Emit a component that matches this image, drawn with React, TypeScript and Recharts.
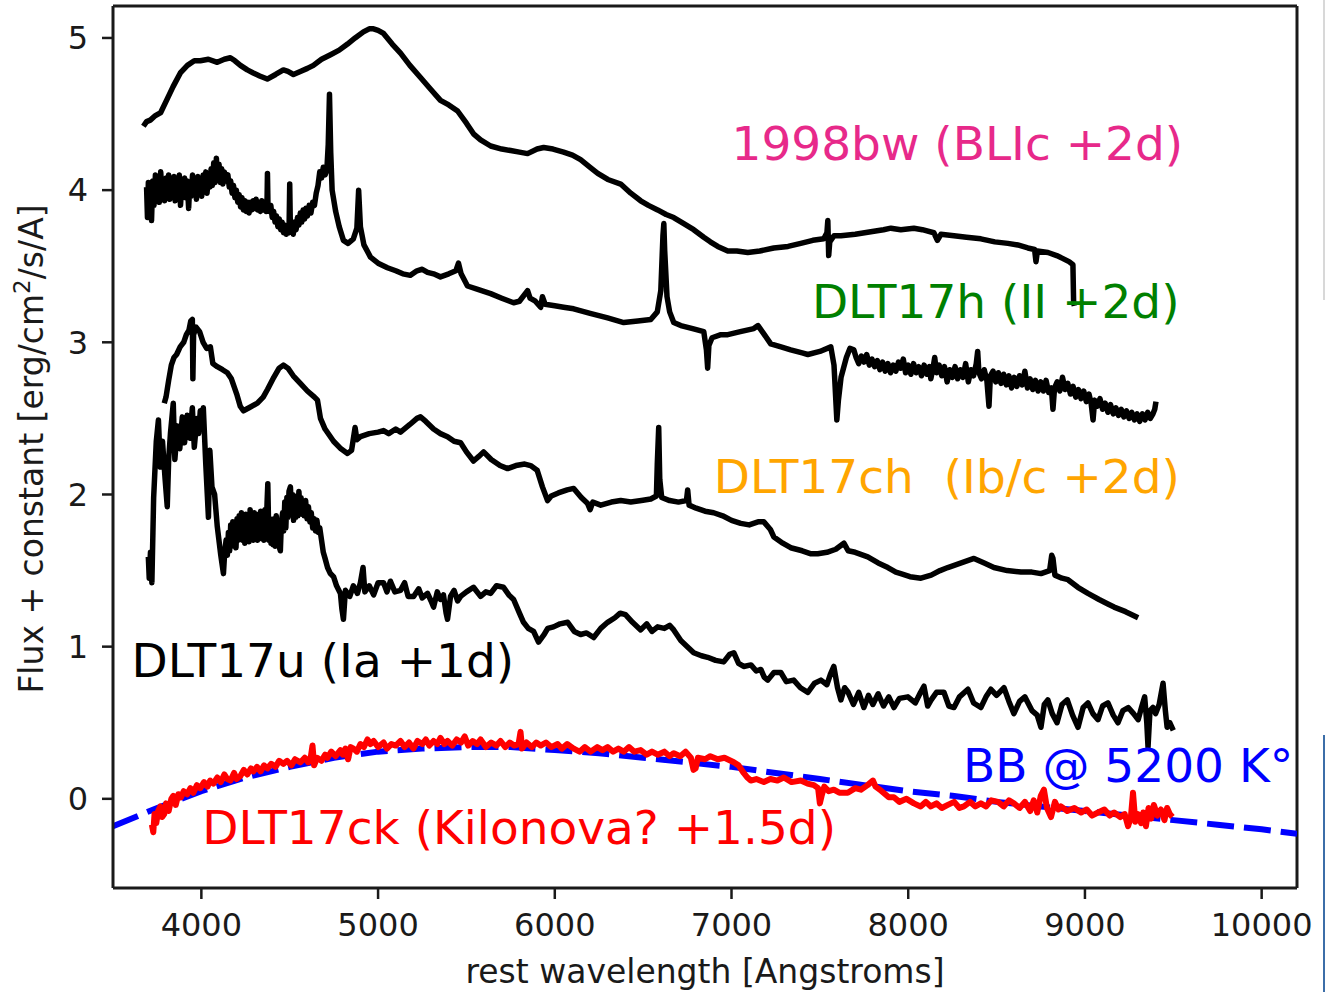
import { LineChart, Line, XAxis, YAxis, ReferenceDot, ReferenceLine } from 'recharts';

type Pt = [number, number];

// axis setup
const xTicks = [4000, 5000, 6000, 7000, 8000, 9000, 10000];
const yTicks = [0, 1, 2, 3, 4, 5];
const xMin = 3500;
const xMax = 10200;
const yMin = -0.586;
const yMax = 5.21;

// [rest wavelength (A), flux + constant]
const sn1998bw: Pt[] = [
  [3672, 4.42], [3690, 4.45], [3711, 4.46], [3740, 4.49], [3770, 4.51], [3807, 4.6], [3840, 4.68],
  [3881, 4.77], [3921, 4.82], [3960, 4.85], [3994, 4.85], [4040, 4.86], [4090, 4.84], [4130, 4.86],
  [4164, 4.87], [4190, 4.85], [4221, 4.82], [4260, 4.79], [4294, 4.77], [4330, 4.75], [4373, 4.73],
  [4420, 4.76], [4464, 4.79], [4490, 4.78], [4521, 4.76], [4560, 4.78], [4600, 4.8], [4634, 4.82],
  [4680, 4.86], [4731, 4.89], [4780, 4.92], [4827, 4.96], [4870, 5.0], [4917, 5.04], [4950, 5.06],
  [4974, 5.06], [5000, 5.05], [5031, 5.03], [5080, 4.96], [5127, 4.9], [5180, 4.82], [5240, 4.74],
  [5300, 4.66], [5353, 4.59], [5400, 4.56], [5450, 4.52], [5500, 4.44], [5540, 4.37], [5580, 4.33],
  [5637, 4.29], [5700, 4.27], [5750, 4.26], [5800, 4.25], [5846, 4.24], [5900, 4.27], [5937, 4.28],
  [5990, 4.27], [6050, 4.25], [6100, 4.23], [6146, 4.2], [6200, 4.15], [6243, 4.11], [6300, 4.07],
  [6373, 4.04], [6430, 3.98], [6486, 3.93], [6530, 3.9], [6582, 3.87], [6630, 3.84], [6673, 3.82],
  [6730, 3.78], [6786, 3.74], [6843, 3.69], [6880, 3.66], [6922, 3.63], [6979, 3.6], [7030, 3.6],
  [7092, 3.59], [7160, 3.6], [7239, 3.62], [7320, 3.63], [7392, 3.65], [7460, 3.67], [7522, 3.68],
  [7540, 3.72], [7545, 3.8], [7550, 3.57], [7556, 3.66], [7580, 3.7], [7619, 3.7], [7700, 3.71],
  [7806, 3.73], [7860, 3.74], [7902, 3.75], [7958, 3.74], [8032, 3.75], [8080, 3.74], [8145, 3.72],
  [8165, 3.67], [8185, 3.71], [8259, 3.7], [8330, 3.69], [8411, 3.68], [8490, 3.66], [8564, 3.65],
  [8620, 3.64], [8677, 3.62], [8715, 3.61], [8723, 3.53], [8731, 3.6], [8791, 3.59], [8840, 3.57],
  [8876, 3.55], [8910, 3.53], [8932, 3.51], [8936, 3.26], [8940, 3.24],
];

const dlt17h: Pt[] = [
  [3690, 4.02], [3695, 3.82], [3700, 4.05], [3705, 3.85], [3710, 3.95], [3718, 3.8], [3725, 4.06],
  [3732, 3.9], [3740, 4.1], [3748, 3.95], [3755, 4.08], [3762, 3.92], [3770, 4.12], [3778, 3.97],
  [3785, 4.06], [3792, 3.93], [3800, 4.08], [3808, 3.96], [3815, 4.1], [3822, 3.94], [3830, 4.05],
  [3838, 3.98], [3845, 4.09], [3852, 3.93], [3860, 4.06], [3868, 3.99], [3875, 4.1], [3882, 3.9],
  [3890, 4.04], [3898, 3.97], [3905, 4.08], [3912, 3.95], [3920, 4.06], [3928, 3.88], [3935, 4.05],
  [3942, 3.96], [3950, 4.1], [3958, 3.98], [3965, 4.06], [3972, 3.94], [3980, 4.09], [3988, 3.99],
  [3995, 4.07], [4002, 3.96], [4010, 4.1], [4018, 4.0], [4025, 4.12], [4032, 3.98], [4040, 4.1],
  [4048, 4.02], [4055, 4.14], [4062, 4.03], [4070, 4.18], [4078, 4.05], [4085, 4.21], [4092, 4.08],
  [4100, 4.17], [4108, 4.05], [4115, 4.14], [4122, 4.04], [4130, 4.12], [4140, 4.06], [4150, 4.1],
  [4158, 4.02], [4166, 4.06], [4174, 3.98], [4182, 4.03], [4190, 3.95], [4198, 4.0], [4206, 3.92],
  [4214, 3.97], [4222, 3.89], [4230, 3.95], [4238, 3.87], [4246, 3.93], [4254, 3.86], [4262, 3.92],
  [4270, 3.85], [4278, 3.92], [4286, 3.87], [4294, 3.93], [4302, 3.88], [4310, 3.94], [4318, 3.87],
  [4326, 3.92], [4334, 3.86], [4342, 3.93], [4350, 3.87], [4358, 3.92], [4366, 3.86], [4372, 3.95],
  [4374, 4.11], [4377, 3.9], [4385, 3.86], [4393, 3.9], [4401, 3.82], [4409, 3.86], [4417, 3.79],
  [4425, 3.83], [4433, 3.76], [4441, 3.81], [4449, 3.74], [4457, 3.79], [4465, 3.72], [4473, 3.77],
  [4481, 3.71], [4489, 3.76], [4496, 3.72], [4500, 4.04], [4504, 3.73], [4512, 3.78], [4520, 3.71],
  [4528, 3.79], [4536, 3.74], [4544, 3.82], [4552, 3.77], [4560, 3.85], [4568, 3.79], [4576, 3.87],
  [4584, 3.81], [4592, 3.88], [4600, 3.83], [4610, 3.9], [4620, 3.85], [4630, 3.92], [4640, 3.9],
  [4650, 3.98], [4660, 4.03], [4670, 4.12], [4680, 4.08], [4690, 4.15], [4700, 4.1], [4710, 4.13],
  [4718, 4.3], [4725, 4.63], [4732, 4.25], [4740, 4.0], [4760, 3.86], [4780, 3.76], [4804, 3.67],
  [4830, 3.65], [4860, 3.68], [4880, 3.75], [4890, 4.0], [4900, 3.76], [4920, 3.64], [4957, 3.56],
  [5000, 3.52], [5053, 3.49], [5100, 3.47], [5140, 3.45], [5183, 3.44], [5220, 3.47], [5250, 3.48],
  [5280, 3.46], [5314, 3.45], [5353, 3.43], [5400, 3.45], [5440, 3.47], [5455, 3.52], [5470, 3.45],
  [5506, 3.37], [5560, 3.35], [5637, 3.32], [5700, 3.29], [5767, 3.26], [5800, 3.27], [5846, 3.34],
  [5860, 3.29], [5890, 3.27], [5920, 3.23], [5930, 3.3], [5945, 3.25], [6000, 3.24], [6050, 3.23],
  [6107, 3.22], [6200, 3.19], [6299, 3.16], [6390, 3.13], [6470, 3.14], [6543, 3.15], [6580, 3.2],
  [6600, 3.34], [6612, 3.7], [6617, 3.78], [6622, 3.6], [6635, 3.3], [6650, 3.2], [6673, 3.13],
  [6713, 3.11], [6780, 3.09], [6843, 3.07], [6858, 2.95], [6865, 2.83], [6872, 2.98], [6890, 3.03],
  [6940, 3.05], [6979, 3.05], [7050, 3.07], [7126, 3.09], [7150, 3.11], [7180, 3.06], [7222, 2.99],
  [7280, 2.97], [7335, 2.95], [7400, 2.93], [7432, 2.92], [7500, 2.94], [7562, 2.97], [7580, 2.85],
  [7596, 2.49], [7605, 2.62], [7620, 2.77], [7650, 2.9], [7670, 2.96], [7692, 2.95], [7705, 2.9],
  [7720, 2.86], [7735, 2.91], [7750, 2.87], [7765, 2.92], [7780, 2.85], [7795, 2.89], [7810, 2.84],
  [7825, 2.88], [7840, 2.82], [7855, 2.87], [7870, 2.81], [7885, 2.86], [7900, 2.8], [7915, 2.85],
  [7930, 2.81], [7945, 2.87], [7958, 2.83], [7972, 2.89], [7985, 2.8], [8000, 2.85], [8015, 2.79],
  [8030, 2.86], [8045, 2.8], [8060, 2.84], [8075, 2.78], [8090, 2.85], [8105, 2.79], [8120, 2.84],
  [8128, 2.76], [8140, 2.83], [8150, 2.9], [8160, 2.8], [8175, 2.85], [8190, 2.78], [8205, 2.84],
  [8220, 2.74], [8235, 2.82], [8250, 2.77], [8265, 2.84], [8280, 2.76], [8295, 2.82], [8310, 2.77],
  [8325, 2.86], [8340, 2.74], [8355, 2.82], [8370, 2.78], [8385, 2.86], [8393, 2.94], [8400, 2.8],
  [8415, 2.76], [8430, 2.82], [8445, 2.75], [8457, 2.58], [8465, 2.78], [8480, 2.81], [8495, 2.74],
  [8510, 2.8], [8525, 2.73], [8540, 2.79], [8555, 2.72], [8570, 2.78], [8585, 2.7], [8600, 2.77],
  [8615, 2.71], [8630, 2.78], [8645, 2.72], [8660, 2.81], [8675, 2.7], [8690, 2.76], [8705, 2.69],
  [8720, 2.75], [8735, 2.68], [8750, 2.74], [8765, 2.68], [8780, 2.75], [8795, 2.67], [8810, 2.7],
  [8819, 2.56], [8828, 2.7], [8843, 2.74], [8858, 2.68], [8873, 2.77], [8888, 2.69], [8903, 2.73],
  [8918, 2.66], [8933, 2.71], [8948, 2.64], [8963, 2.69], [8978, 2.63], [8993, 2.68], [9008, 2.61],
  [9023, 2.66], [9035, 2.6], [9046, 2.49], [9055, 2.62], [9070, 2.58], [9085, 2.63], [9100, 2.56],
  [9115, 2.6], [9130, 2.54], [9145, 2.59], [9160, 2.53], [9175, 2.57], [9190, 2.52], [9205, 2.56],
  [9220, 2.51], [9235, 2.55], [9250, 2.5], [9265, 2.54], [9280, 2.49], [9295, 2.53], [9310, 2.48],
  [9325, 2.53], [9340, 2.49], [9355, 2.54], [9370, 2.5], [9385, 2.53], [9395, 2.56], [9402, 2.61],
];

const dlt17ch: Pt[] = [
  [3790, 2.6], [3800, 2.64], [3815, 2.75], [3830, 2.85], [3845, 2.9], [3860, 2.92], [3880, 2.97],
  [3900, 3.0], [3915, 3.05], [3930, 3.08], [3940, 3.14], [3949, 3.15], [3952, 2.76], [3956, 3.05],
  [3970, 3.1], [3990, 3.07], [4010, 3.0], [4030, 2.96], [4051, 2.97], [4065, 2.86], [4090, 2.84],
  [4120, 2.82], [4147, 2.8], [4170, 2.76], [4200, 2.66], [4220, 2.58], [4238, 2.55], [4270, 2.57],
  [4317, 2.6], [4350, 2.64], [4374, 2.69], [4410, 2.77], [4440, 2.83], [4464, 2.85], [4490, 2.83],
  [4520, 2.78], [4560, 2.73], [4600, 2.68], [4640, 2.64], [4657, 2.62], [4674, 2.5], [4700, 2.43],
  [4748, 2.35], [4790, 2.3], [4827, 2.27], [4850, 2.29], [4870, 2.44], [4880, 2.36], [4900, 2.38],
  [4950, 2.4], [5000, 2.41], [5031, 2.42], [5060, 2.4], [5100, 2.43], [5127, 2.41], [5180, 2.46],
  [5220, 2.5], [5240, 2.51], [5270, 2.48], [5314, 2.43], [5353, 2.4], [5393, 2.38], [5430, 2.35],
  [5467, 2.34], [5500, 2.28], [5540, 2.22], [5570, 2.25], [5597, 2.28], [5640, 2.23], [5690, 2.19],
  [5733, 2.17], [5780, 2.19], [5830, 2.2], [5863, 2.19], [5900, 2.16], [5930, 2.05], [5959, 1.96],
  [5980, 1.99], [6020, 2.01], [6070, 2.03], [6107, 2.04], [6150, 1.98], [6186, 1.94], [6200, 1.9],
  [6215, 1.95], [6260, 1.93], [6320, 1.95], [6373, 1.96], [6430, 1.95], [6490, 1.96], [6543, 1.97],
  [6575, 1.99], [6580, 2.2], [6588, 2.44], [6594, 2.1], [6605, 1.98], [6650, 1.96], [6700, 1.95],
  [6745, 1.96], [6752, 2.03], [6760, 1.93], [6800, 1.91], [6850, 1.89], [6899, 1.88], [6950, 1.86],
  [7000, 1.83], [7052, 1.81], [7100, 1.8], [7150, 1.82], [7183, 1.82], [7220, 1.77], [7240, 1.72],
  [7290, 1.68], [7335, 1.65], [7400, 1.63], [7450, 1.61], [7488, 1.61], [7540, 1.62], [7590, 1.64],
  [7636, 1.68], [7660, 1.63], [7700, 1.62], [7771, 1.59], [7830, 1.55], [7885, 1.52], [7930, 1.49],
  [7958, 1.48], [8010, 1.46], [8072, 1.45], [8130, 1.47], [8180, 1.5], [8224, 1.52], [8300, 1.55],
  [8372, 1.58], [8430, 1.55], [8485, 1.52], [8560, 1.5], [8638, 1.49], [8700, 1.49], [8751, 1.48],
  [8800, 1.5], [8812, 1.6], [8819, 1.58], [8830, 1.47], [8870, 1.45], [8904, 1.44], [8960, 1.39],
  [9017, 1.35], [9080, 1.31], [9130, 1.28], [9165, 1.26], [9230, 1.23], [9301, 1.19],
];

const dlt17u: Pt[] = [
  [3700, 1.59], [3705, 1.45], [3712, 1.62], [3720, 1.42], [3730, 1.98], [3745, 2.35], [3757, 2.49],
  [3768, 2.18], [3780, 2.35], [3795, 2.1], [3807, 1.92], [3815, 2.23], [3825, 2.4], [3841, 2.6],
  [3850, 2.23], [3865, 2.45], [3878, 2.3], [3892, 2.51], [3905, 2.34], [3920, 2.52], [3935, 2.37],
  [3949, 2.57], [3960, 2.31], [3975, 2.5], [3985, 2.4], [3994, 2.55], [4002, 2.45], [4011, 2.57],
  [4025, 2.2], [4040, 1.85], [4048, 2.29], [4060, 2.05], [4075, 2.0], [4090, 1.79], [4110, 1.6],
  [4125, 1.48], [4132, 1.62], [4140, 1.7], [4147, 1.6], [4153, 1.75], [4160, 1.63], [4166, 1.8],
  [4172, 1.66], [4178, 1.82], [4184, 1.68], [4190, 1.78], [4196, 1.65], [4202, 1.84], [4208, 1.7],
  [4214, 1.86], [4221, 1.72], [4227, 1.88], [4233, 1.7], [4240, 1.83], [4246, 1.68], [4252, 1.87],
  [4258, 1.72], [4264, 1.84], [4270, 1.69], [4276, 1.9], [4282, 1.73], [4288, 1.85], [4294, 1.7],
  [4300, 1.88], [4306, 1.72], [4312, 1.84], [4318, 1.7], [4324, 1.87], [4330, 1.73], [4336, 1.89],
  [4342, 1.71], [4348, 1.85], [4354, 1.7], [4360, 1.9], [4366, 1.74], [4372, 1.95], [4376, 2.07],
  [4382, 1.7], [4388, 1.84], [4394, 1.68], [4400, 1.82], [4406, 1.67], [4412, 1.84], [4418, 1.66],
  [4424, 1.86], [4430, 1.7], [4436, 1.8], [4442, 1.65], [4447, 1.63], [4453, 1.82], [4460, 1.88],
  [4466, 1.76], [4472, 1.95], [4478, 1.78], [4484, 1.98], [4490, 1.85], [4496, 2.02], [4504, 2.05],
  [4510, 1.88], [4516, 2.0], [4522, 1.83], [4528, 1.97], [4534, 1.85], [4540, 1.99], [4546, 1.86],
  [4552, 2.02], [4558, 1.9], [4564, 1.98], [4570, 1.87], [4576, 1.95], [4582, 1.86], [4590, 1.96],
  [4598, 1.84], [4606, 1.92], [4614, 1.82], [4622, 1.88], [4630, 1.78], [4638, 1.84], [4646, 1.76],
  [4654, 1.83], [4662, 1.75], [4670, 1.78], [4680, 1.7], [4690, 1.62], [4700, 1.58], [4714, 1.52],
  [4730, 1.48], [4748, 1.46], [4765, 1.4], [4787, 1.35], [4795, 1.25], [4804, 1.18], [4815, 1.37],
  [4840, 1.33], [4860, 1.4], [4883, 1.35], [4900, 1.42], [4915, 1.52], [4925, 1.36], [4950, 1.4],
  [4975, 1.34], [5000, 1.42], [5031, 1.42], [5050, 1.36], [5070, 1.43], [5095, 1.36], [5127, 1.37],
  [5150, 1.42], [5170, 1.33], [5201, 1.33], [5230, 1.38], [5250, 1.32], [5280, 1.35], [5300, 1.3],
  [5314, 1.26], [5335, 1.36], [5353, 1.31], [5370, 1.34], [5385, 1.22], [5393, 1.18], [5410, 1.33],
  [5430, 1.37], [5450, 1.3], [5467, 1.33], [5500, 1.36], [5540, 1.39], [5580, 1.33], [5610, 1.36],
  [5637, 1.35], [5670, 1.4], [5710, 1.39], [5740, 1.34], [5767, 1.31], [5800, 1.22], [5823, 1.16],
  [5850, 1.12], [5880, 1.1], [5908, 1.03], [5940, 1.08], [5960, 1.12], [5993, 1.13], [6030, 1.15],
  [6073, 1.16], [6110, 1.1], [6146, 1.08], [6180, 1.09], [6220, 1.06], [6260, 1.12], [6299, 1.16],
  [6340, 1.19], [6370, 1.22], [6400, 1.21], [6440, 1.16], [6486, 1.11], [6520, 1.15], [6550, 1.1],
  [6582, 1.13], [6620, 1.12], [6650, 1.14], [6673, 1.11], [6713, 1.04], [6750, 1.0], [6786, 0.96],
  [6830, 0.94], [6865, 0.93], [6910, 0.91], [6956, 0.9], [6990, 0.95], [7013, 0.96], [7040, 0.89],
  [7069, 0.87], [7110, 0.88], [7140, 0.84], [7166, 0.85], [7185, 0.8], [7205, 0.78], [7240, 0.83],
  [7279, 0.83], [7310, 0.77], [7352, 0.78], [7390, 0.73], [7432, 0.7], [7470, 0.76], [7506, 0.78],
  [7540, 0.75], [7560, 0.82], [7579, 0.87], [7600, 0.73], [7619, 0.65], [7640, 0.73], [7660, 0.7],
  [7690, 0.62], [7720, 0.7], [7749, 0.6], [7775, 0.68], [7800, 0.62], [7830, 0.69], [7860, 0.61],
  [7890, 0.67], [7919, 0.6], [7950, 0.66], [7998, 0.67], [8040, 0.63], [8070, 0.7], [8089, 0.74],
  [8110, 0.61], [8130, 0.65], [8160, 0.7], [8202, 0.7], [8230, 0.61], [8259, 0.6], [8290, 0.67],
  [8338, 0.72], [8370, 0.63], [8411, 0.6], [8440, 0.67], [8468, 0.72], [8500, 0.68], [8542, 0.73],
  [8570, 0.64], [8598, 0.56], [8630, 0.64], [8660, 0.67], [8700, 0.58], [8730, 0.55], [8751, 0.47],
  [8770, 0.62], [8790, 0.65], [8815, 0.56], [8842, 0.5], [8870, 0.62], [8900, 0.65], [8930, 0.55],
  [8961, 0.47], [8990, 0.6], [9017, 0.63], [9045, 0.56], [9074, 0.52], [9100, 0.61], [9130, 0.63],
  [9160, 0.55], [9187, 0.5], [9215, 0.58], [9245, 0.6], [9275, 0.56], [9301, 0.52], [9320, 0.6],
  [9338, 0.67], [9350, 0.5], [9357, 0.34], [9368, 0.58], [9385, 0.6], [9400, 0.56], [9420, 0.62],
  [9442, 0.76], [9455, 0.58], [9465, 0.47], [9480, 0.5], [9500, 0.45],
];

const dlt17ck: Pt[] = [
  [3720, -0.17], [3728, -0.22], [3735, -0.1], [3745, -0.16], [3755, -0.08], [3768, -0.05],
  [3778, -0.12], [3790, -0.1], [3800, -0.03], [3815, -0.08], [3830, 0.0], [3841, 0.02],
  [3855, -0.04], [3870, 0.03], [3885, 0.01], [3900, 0.05], [3920, 0.03], [3938, 0.07], [3955, 0.04],
  [3975, 0.09], [3994, 0.07], [4015, 0.11], [4035, 0.08], [4050, 0.12], [4068, 0.1], [4090, 0.14],
  [4110, 0.11], [4130, 0.16], [4147, 0.13], [4165, 0.12], [4185, 0.17], [4200, 0.13], [4221, 0.15],
  [4240, 0.19], [4260, 0.16], [4280, 0.2], [4294, 0.18], [4315, 0.21], [4335, 0.18], [4355, 0.22],
  [4374, 0.2], [4395, 0.23], [4420, 0.21], [4440, 0.25], [4464, 0.23], [4485, 0.25], [4510, 0.22],
  [4530, 0.26], [4561, 0.24], [4585, 0.27], [4605, 0.24], [4620, 0.28], [4629, 0.35], [4638, 0.22],
  [4655, 0.27], [4680, 0.25], [4700, 0.29], [4714, 0.27], [4735, 0.31], [4760, 0.28], [4787, 0.32],
  [4800, 0.29], [4815, 0.33], [4830, 0.26], [4845, 0.34], [4861, 0.33], [4880, 0.31], [4900, 0.36],
  [4920, 0.34], [4940, 0.39], [4957, 0.36], [4975, 0.38], [5000, 0.34], [5031, 0.37], [5050, 0.33],
  [5075, 0.36], [5100, 0.35], [5127, 0.38], [5150, 0.34], [5175, 0.37], [5200, 0.33], [5223, 0.38],
  [5250, 0.36], [5270, 0.39], [5290, 0.35], [5314, 0.38], [5335, 0.36], [5353, 0.4], [5375, 0.36],
  [5393, 0.38], [5420, 0.35], [5445, 0.39], [5470, 0.37], [5490, 0.41], [5510, 0.35], [5535, 0.38],
  [5560, 0.36], [5580, 0.39], [5610, 0.34], [5640, 0.37], [5670, 0.35], [5693, 0.38], [5720, 0.34],
  [5745, 0.37], [5770, 0.35], [5795, 0.36], [5806, 0.44], [5815, 0.33], [5840, 0.37], [5870, 0.34],
  [5895, 0.37], [5920, 0.35], [5950, 0.37], [5980, 0.34], [6016, 0.36], [6040, 0.33], [6070, 0.36],
  [6107, 0.33], [6140, 0.31], [6170, 0.34], [6203, 0.31], [6240, 0.34], [6270, 0.32], [6299, 0.34],
  [6330, 0.31], [6360, 0.33], [6390, 0.31], [6420, 0.34], [6450, 0.31], [6486, 0.32], [6520, 0.29],
  [6550, 0.31], [6582, 0.29], [6620, 0.31], [6650, 0.28], [6673, 0.3], [6710, 0.28], [6740, 0.31],
  [6770, 0.27], [6785, 0.19], [6797, 0.2], [6810, 0.27], [6850, 0.26], [6880, 0.28], [6922, 0.26],
  [6960, 0.27], [7013, 0.24], [7040, 0.22], [7069, 0.17], [7090, 0.14], [7109, 0.12], [7140, 0.13],
  [7183, 0.11], [7220, 0.13], [7260, 0.12], [7296, 0.14], [7340, 0.11], [7392, 0.12], [7430, 0.1],
  [7466, 0.09], [7490, 0.07], [7500, -0.03], [7510, 0.02], [7525, 0.08], [7550, 0.05], [7579, 0.06],
  [7610, 0.04], [7658, 0.04], [7700, 0.07], [7732, 0.06], [7770, 0.09], [7800, 0.12], [7815, 0.08],
  [7840, 0.06], [7870, 0.03], [7890, 0.01], [7919, 0.01], [7950, -0.02], [7990, 0.0], [8032, -0.03],
  [8070, -0.05], [8100, -0.02], [8128, -0.05], [8160, -0.03], [8190, -0.06], [8224, -0.04],
  [8260, -0.02], [8290, -0.06], [8315, -0.05], [8350, -0.02], [8380, -0.05], [8411, -0.03],
  [8440, -0.05], [8470, -0.01], [8508, -0.02], [8540, -0.05], [8570, -0.01], [8598, -0.03],
  [8630, -0.06], [8660, -0.02], [8690, -0.08], [8710, -0.01], [8730, -0.09], [8750, 0.02],
  [8768, 0.06], [8785, -0.06], [8808, -0.12], [8830, -0.02], [8850, -0.07], [8864, -0.05],
  [8900, -0.08], [8940, -0.06], [8978, -0.09], [9010, -0.07], [9040, -0.11], [9074, -0.09],
  [9110, -0.07], [9140, -0.11], [9165, -0.09], [9200, -0.12], [9225, -0.1], [9244, -0.18],
  [9260, -0.12], [9272, 0.04], [9285, -0.15], [9300, -0.1], [9318, -0.16], [9330, -0.09],
  [9345, -0.18], [9360, -0.06], [9375, -0.13], [9390, -0.04], [9410, -0.11], [9430, -0.07],
  [9450, -0.14], [9465, -0.06], [9480, -0.1], [9495, -0.12],
];

// blackbody curve, T = 5200 K
const blackbody: Pt[] = [
  [3500, -0.18], [3750, -0.06], [4000, 0.05], [4250, 0.14], [4500, 0.21], [4750, 0.27],
  [5000, 0.31], [5250, 0.33], [5500, 0.34], [5750, 0.34], [6000, 0.32], [6250, 0.3], [6500, 0.27],
  [6750, 0.24], [7000, 0.21], [7250, 0.17], [7500, 0.13], [7750, 0.09], [8000, 0.05], [8250, 0.02],
  [8500, -0.02], [8750, -0.05], [9000, -0.08], [9250, -0.11], [9500, -0.14], [9750, -0.17],
  [10000, -0.2], [10200, -0.23],
];

const annotations = [
  { text: '1998bw (BLIc +2d)', w: 7000, f: 4.196, color: '#e7298a' },
  { text: 'DLT17h (II +2d)', w: 7455, f: 3.158, color: '#008000' },
  { text: 'DLT17ch  (Ib/c +2d)', w: 6900, f: 2.009, color: '#ffa500' },
  { text: 'DLT17u (Ia +1d)', w: 3605, f: 0.801, color: '#000000' },
  { text: 'DLT17ck (Kilonova? +1.5d)', w: 4005, f: -0.295, color: '#ff0000' },
  { text: 'BB @ 5200 K°', w: 8310, f: 0.112, color: '#0000ff' },
];

const FONT = 'DejaVu Sans, sans-serif';
const AXIS = '#1a1a1a';

const rows = (pts: Pt[]) => pts.map(([w, f]) => ({ w, f }));

function XLabel({ viewBox }: any) {
  const { x, y, width } = viewBox;
  return (
    <text x={x + width / 2} y={y + 95} textAnchor="middle" fontSize={33} fontFamily={FONT} fill={AXIS}>
      rest wavelength [Angstroms]
    </text>
  );
}

function YLabel({ viewBox }: any) {
  const cx = viewBox.x + 43;
  const cy = viewBox.y + viewBox.height / 2 + 2;
  return (
    <text x={cx} y={cy} transform={`rotate(-90 ${cx} ${cy})`} textAnchor="middle"
          fontSize={33} fontFamily={FONT} fill={AXIS}>
      Flux + constant [erg/cm<tspan dy={-13} fontSize={23}>2</tspan>
      <tspan dy={13}>/s/A]</tspan>
    </text>
  );
}

export default function App() {
  const tickStyle = { fontSize: 32, fill: AXIS, fontFamily: FONT };
  const black = { stroke: '#000', strokeWidth: 5.5, dot: false, strokeLinejoin: 'round' as const };
  return (
    <div style={{ position: 'absolute', left: 0, top: 0, width: 1326, height: 992, background: '#fff' }}>
      <LineChart width={1326} height={992} margin={{ top: 6, right: 29, bottom: 0, left: 0 }}>
        <XAxis
          type="number"
          dataKey="w"
          domain={[xMin, xMax]}
          ticks={xTicks}
          allowDataOverflow
          height={104}
          tickSize={11}
          tickMargin={14}
          tick={tickStyle}
          axisLine={{ stroke: AXIS, strokeWidth: 3 }}
          tickLine={{ stroke: AXIS, strokeWidth: 2.5 }}
          label={<XLabel />}
        />
        <YAxis
          type="number"
          domain={[yMin, yMax]}
          ticks={yTicks}
          allowDataOverflow
          width={113}
          tickSize={11}
          tickMargin={14}
          tick={tickStyle}
          axisLine={{ stroke: AXIS, strokeWidth: 3 }}
          tickLine={{ stroke: AXIS, strokeWidth: 2.5 }}
          label={<YLabel />}
        />
        <ReferenceLine y={yMax} stroke={AXIS} strokeWidth={3} />
        <ReferenceLine x={xMax} stroke={AXIS} strokeWidth={3} />

        <Line data={rows(sn1998bw)} dataKey="f" {...black} isAnimationActive={false} />
        <Line data={rows(dlt17h)} dataKey="f" {...black} isAnimationActive={false} />
        <Line data={rows(dlt17ch)} dataKey="f" {...black} isAnimationActive={false} />
        <Line data={rows(dlt17u)} dataKey="f" {...black} isAnimationActive={false} />
        <Line data={rows(blackbody)} dataKey="f" stroke="#0000ff" strokeWidth={6} dot={false}
              strokeDasharray="27 10" isAnimationActive={false} />
        <Line data={rows(dlt17ck)} dataKey="f" stroke="#ff0000" strokeWidth={6} dot={false}
              strokeLinejoin="round" isAnimationActive={false} />

        {annotations.map((a) => (
          <ReferenceDot
            key={a.text}
            x={a.w}
            y={a.f}
            r={0}
            shape={(p: any) => (
              <text x={p.cx} y={p.cy} fill={a.color} fontSize={47} fontFamily={FONT}
                    style={{ whiteSpace: 'pre' }}>
                {a.text}
              </text>
            )}
          />
        ))}
      </LineChart>
      <div style={{ position: 'absolute', left: 1323, top: 0, width: 2, height: 300, background: '#d8d8d8' }} />
      <div style={{ position: 'absolute', left: 1323, top: 735, width: 2, height: 257, background: '#3c6ea8' }} />
    </div>
  );
}
